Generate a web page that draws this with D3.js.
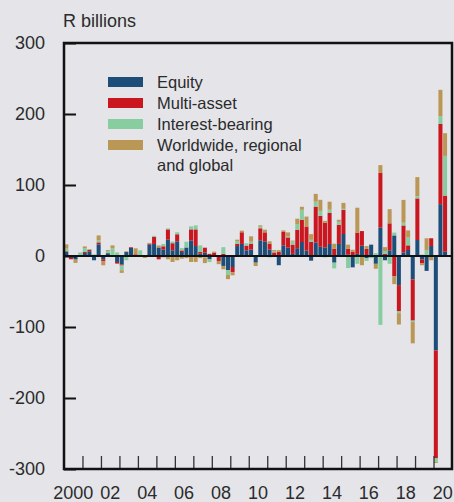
<!DOCTYPE html>
<html>
<head>
<meta charset="utf-8">
<script src="https://cdn.jsdelivr.net/npm/d3@7"></script>
<style>
  body { margin: 0; background: #e4e4e9; }
  svg text { font-family: "Liberation Sans", Arial, sans-serif; fill: #2b2b2b; }
</style>
</head>
<body>
<script>
let width = 454,
    height = 502;

let margin = {top: 43, right: 2, bottom: 33, left: 64};
let innerW = width - margin.left - margin.right,
    innerH = height - margin.top - margin.bottom;

// quarterly flows, 2000Q1 .. 2020Q3, R billions
let quarters = d3.range(83).map(i => (2000 + Math.floor(i / 4)) + "Q" + (i % 4 + 1));

let equity = [
  5.6, -2.3, -5, 0, 4.2, 6.6, -6, 16.4, -4.7, 4, 0, -8.4,
  -12, 5.6, 11.3, 1, -1.4, 0, 16, 17, 12, 9, 23, 8,
  20.6, 5.6, 12, 22, 14, 3.3, 4.7, -4.7, 0, 0, -14, -20,
  -15.5, 14, 17, 8, 9, -9.4, 22, 20.6, 9, 0, -13, 15,
  11.7, 3, 11, 19.7, 7.5, -6.6, 18.8, 13, 11.7, 17, -9.4, 17,
  31, 2, -16, 3, 14.5, -3, 16, -11, 40, -6, 8, 29,
  -41, 5, 8.5, -33, 22.5, -5, -21, 14, -133, 73, 6
];
let multiAsset = [
  1, -2.3, 0, 0, 1.4, 1.9, 0, 2.8, -2.8, 0, 1.4, -2.3,
  -1.4, 0, 1, 1.4, 0, 0, 1.4, 10, -4.7, 4.7, 14.5, 10,
  10, 2.3, 0, 15.5, 23.5, 2.3, 7, 3, 4.7, -7, 3, 0,
  -7.5, 3, 16.4, 6.6, 8.4, 0, 17, 12.7, 8.4, 5, 6, 18.8,
  14.5, 13, 26, 31.4, 34, 20, 50.7, 43.6, 35, 44, 10.3, 27,
  34, 8, 6, 30, 20.6, 10, 0, 0, 77, 3, 38, -28.6,
  -37, 38, 6.5, -58, 58.6, -5, 0, 11, -152, 113, 79
];
let interestBearing = [
  3.8, 0, 0, 5, 5.6, 0, 2.3, 2.8, 0, 3, 9.4, 5,
  -6.6, -6, 0, 0, 8, 0, 0, 1.4, 0, 3.3, 1.4, 2.3,
  2.8, 3.3, 8, 4.2, 5.6, 9.4, -2, -3.8, 0, 0, 9.4, -6.6,
  0, 4, 0, 3.3, 2.8, 0, 2.3, 0, -2, 1.4, 0, 0,
  1.4, 4.7, 8, 14, 0, 2.8, 7, 7, -2, 4.2, -8, 4.2,
  1.4, -17, 0, -11, 0, -4, -3, 4, -97, 4, -11, 4,
  -2.5, 4, 11, -2, 3, 2, 8, 0, -5, 11, 56
];
let worldwide = [
  6, 0, -4.7, -1.4, 2.3, 1, 0, 7, -5.6, 1.4, 4.2, 0,
  -3.8, 1, 0, 8.4, 0, -2.8, 1, 0, 2.8, -2, -4.7, -8.4,
  -6, -3.8, -3, -8.4, -8.4, -3, -8, 0, 1.4, -4.5, -4.7, -6,
  -4.2, 2, 2.3, 0, 7.5, -4.7, 1.9, 3.8, 3.3, 2, 2.3, 2.3,
  5.6, 1, 7.5, 4.2, 14, 8, 11, 15.5, 2.8, 11.3, 7, 2.8,
  8.4, 6, 2.8, 35, -13, 4, 0, -7, 11, 5.5, 20, -11,
  -16, 32, 10, -30, 27, -3, 17, -6, -1.5, 37, 32
];

let keys = ["equity", "multiAsset", "interestBearing", "worldwide"];
let labels = ["Equity", "Multi-asset", "Interest-bearing", ["Worldwide, regional", "and global"]];
let colors = ["#1d4e79", "#c9161f", "#87cda0", "#bb9756"];

let yTicks = [-300, -200, -100, 0, 100, 200, 300];
let yearTicks = d3.range(2001, 2021);
let yearLabels = ["2000", "02", "04", "06", "08", "10", "12", "14", "16", "18", "20"];

let rows = quarters.map((q, i) => ({
  t: +q.slice(0, 4) + (+q.slice(5) - 1) / 4,
  equity: equity[i],
  multiAsset: multiAsset[i],
  interestBearing: interestBearing[i],
  worldwide: worldwide[i]
}));

let series = d3.stack()
    .keys(keys)
    .offset(d3.stackOffsetDiverging)(rows);

let svg = d3.select("body")
    .append("svg")
    .attr("width", width)
    .attr("height", height);

let g = svg.append("g")
    .attr("transform", "translate(" + margin.left + "," + margin.top + ")");

let x = d3.scaleLinear()
    .domain([2000, 2021])
    .range([0, innerW]);

let y = d3.scaleLinear()
    .domain([-300, 300])
    .range([innerH, 0]);

let color = d3.scaleOrdinal().domain(keys).range(colors);

// bars
g.selectAll("g.series")
    .data(series)
    .enter()
    .append("g")
    .attr("class", "series")
    .attr("fill", d => color(d.key))
    .selectAll("rect")
    .data(d => d)
    .enter()
    .append("rect")
    .attr("x", d => x(d.data.t) + 0.3)
    .attr("width", d => x(d.data.t + 0.25) - x(d.data.t) - 0.6)
    .attr("y", d => y(Math.max(d[0], d[1])))
    .attr("height", d => Math.abs(y(d[0]) - y(d[1])));

// zero line
g.append("line")
    .attr("x1", 0)
    .attr("x2", innerW)
    .attr("y1", y(0))
    .attr("y2", y(0))
    .attr("stroke", "#111")
    .attr("stroke-width", 1.8);

// y axis, ticks pointing inward
let yAxis = g.append("g")
    .call(d3.axisLeft(y).tickValues(yTicks).tickSize(-12).tickPadding(19)
        .tickFormat(d => String(d)));
yAxis.select(".domain").remove();
yAxis.selectAll(".tick line").attr("stroke", "#111").attr("stroke-width", 2);
yAxis.selectAll(".tick text")
    .style("font-size", "18px")
    .attr("font-family", null);

// x axis ticks at year boundaries
let xAxis = g.append("g")
    .attr("transform", "translate(0," + innerH + ")")
    .call(d3.axisBottom(x).tickValues(yearTicks).tickSize(-13).tickFormat(""));
xAxis.select(".domain").remove();
xAxis.selectAll(".tick line").attr("stroke", "#333").attr("stroke-width", 1.3);

g.selectAll("text.year")
    .data(yearLabels)
    .enter()
    .append("text")
    .attr("class", "year")
    .attr("x", (d, i) => x(2000 + i * 2 + 0.5))
    .attr("y", innerH + 30)
    .style("text-anchor", "middle")
    .style("font-size", "18px")
    .text(d => d);

// frame
g.append("rect")
    .attr("width", innerW)
    .attr("height", innerH)
    .attr("fill", "none")
    .attr("stroke", "#111")
    .attr("stroke-width", 2.5);

svg.append("text")
    .attr("x", 63)
    .attr("y", 27)
    .style("font-size", "18px")
    .text("R billions");

// legend
let legend = svg.append("g").attr("transform", "translate(108,77)");
keys.forEach((k, i) => {
  legend.append("rect")
      .attr("x", 0)
      .attr("y", i * 21)
      .attr("width", 35)
      .attr("height", 10)
      .attr("fill", color(k));
  let lines = [].concat(labels[i]);
  lines.forEach((t, j) => {
    legend.append("text")
        .attr("x", 49)
        .attr("y", i * 21 + 10.5 + j * 20.5)
        .style("font-size", "16.5px")
        .text(t);
  });
});
</script>
</body>
</html>
